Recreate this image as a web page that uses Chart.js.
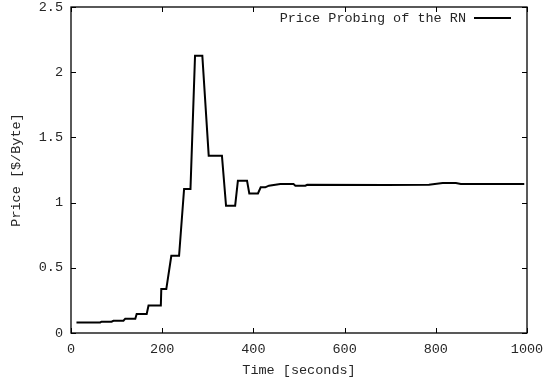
<!DOCTYPE html>
<html>
<head>
<meta charset="utf-8">
<script src="https://cdn.jsdelivr.net/npm/chart.js@4"></script>
<style>
  html, body { margin: 0; padding: 0; background: #fff; }
  #wrap { width: 546px; height: 379px; }
</style>
</head>
<body>
<div id="wrap"><canvas id="chart"></canvas></div>
<script>
// data
const seriesLabel = 'Price Probing of the RN';
const times = [12, 64, 67, 89, 93, 115, 119, 141, 144, 166, 170, 197, 198, 209, 220, 237, 248, 262,
  272, 288, 302, 331, 340, 360, 366, 386, 391, 410, 416, 426, 434, 459, 488, 492, 514, 518,
  690, 785, 815, 844, 855, 994];
const prices = [0.081, 0.081, 0.087, 0.087, 0.094, 0.094, 0.11, 0.11, 0.146, 0.146, 0.21, 0.21,
  0.337, 0.337, 0.592, 0.592, 1.104, 1.104, 2.127, 2.127, 1.36, 1.36, 0.976, 0.976, 1.168, 1.168,
  1.07, 1.07, 1.117, 1.117, 1.13, 1.142, 1.142, 1.13, 1.13, 1.137, 1.135, 1.137, 1.15, 1.15,
  1.142, 1.142];
const xTicks = [0, 200, 400, 600, 800, 1000];
const yTicks = [0, 0.5, 1, 1.5, 2, 2.5];

const font = { family: "'Liberation Mono', 'DejaVu Sans Mono', monospace", size: 13.5 };
const ink = '#262626';

const points = times.map((t, i) => ({ x: t, y: prices[i] }));

// frame, inward ticks and the legend inside the plot
const framePlugin = {
  id: 'frame',
  afterDatasetsDraw(chart) {
    const { ctx, chartArea: a, scales } = chart;
    ctx.save();
    ctx.strokeStyle = '#000';
    ctx.lineWidth = 1.3;
    ctx.strokeRect(a.left, a.top, a.right - a.left, a.bottom - a.top);
    ctx.lineWidth = 1;
    ctx.beginPath();
    xTicks.forEach(v => {
      const px = Math.round(scales.x.getPixelForValue(v)) + 0.5;
      ctx.moveTo(px, a.bottom); ctx.lineTo(px, a.bottom - 5);
      ctx.moveTo(px, a.top); ctx.lineTo(px, a.top + 5);
    });
    yTicks.forEach(v => {
      const py = Math.round(scales.y.getPixelForValue(v)) + 0.5;
      ctx.moveTo(a.left, py); ctx.lineTo(a.left + 5, py);
      ctx.moveTo(a.right, py); ctx.lineTo(a.right - 5, py);
    });
    ctx.stroke();

    // legend
    const ds = chart.data.datasets[0];
    const ly = a.top + 11;
    const lineEnd = a.right - 16;
    const lineStart = lineEnd - 37;
    ctx.font = font.size + 'px ' + font.family;
    ctx.fillStyle = ink;
    ctx.textAlign = 'right';
    ctx.textBaseline = 'middle';
    ctx.fillText(ds.label, lineStart - 8, ly);
    ctx.strokeStyle = ds.borderColor;
    ctx.lineWidth = ds.borderWidth;
    ctx.beginPath();
    ctx.moveTo(lineStart, ly); ctx.lineTo(lineEnd, ly);
    ctx.stroke();
    ctx.restore();
  }
};

new Chart(document.getElementById('chart'), {
  type: 'line',
  data: {
    datasets: [{
      label: seriesLabel,
      data: points,
      borderColor: '#000',
      borderWidth: 2,
      pointRadius: 0,
      tension: 0,
      fill: false
    }]
  },
  options: {
    responsive: true,
    maintainAspectRatio: false,
    animation: false,
    layout: { padding: { top: 7, right: 19, left: 0, bottom: 0 } },
    plugins: { legend: { display: false }, tooltip: { enabled: false } },
    scales: {
      x: {
        type: 'linear',
        min: 0,
        max: 1000,
        afterBuildTicks: s => { s.ticks = xTicks.map(v => ({ value: v })); },
        afterFit: s => { s.height = 46; s.paddingLeft = 0; s.paddingRight = 0; },
        grid: { display: false, drawTicks: false },
        border: { display: false },
        ticks: { color: ink, font: font, padding: 8, maxRotation: 0, callback: v => String(v) },
        title: { display: true, text: 'Time [seconds]', color: ink, font: font, padding: { top: 2, bottom: 0 } }
      },
      y: {
        min: 0,
        max: 2.5,
        afterBuildTicks: s => { s.ticks = yTicks.map(v => ({ value: v })); },
        afterFit: s => { s.width = 71; s.paddingTop = 0; s.paddingBottom = 0; },
        grid: { display: false, drawTicks: false },
        border: { display: false },
        ticks: { color: ink, font: font, padding: 8, callback: v => String(v) },
        title: { display: true, text: 'Price [$/Byte]', color: ink, font: font, padding: { top: 8, bottom: 6 } }
      }
    }
  },
  plugins: [framePlugin]
});
</script>
</body>
</html>
